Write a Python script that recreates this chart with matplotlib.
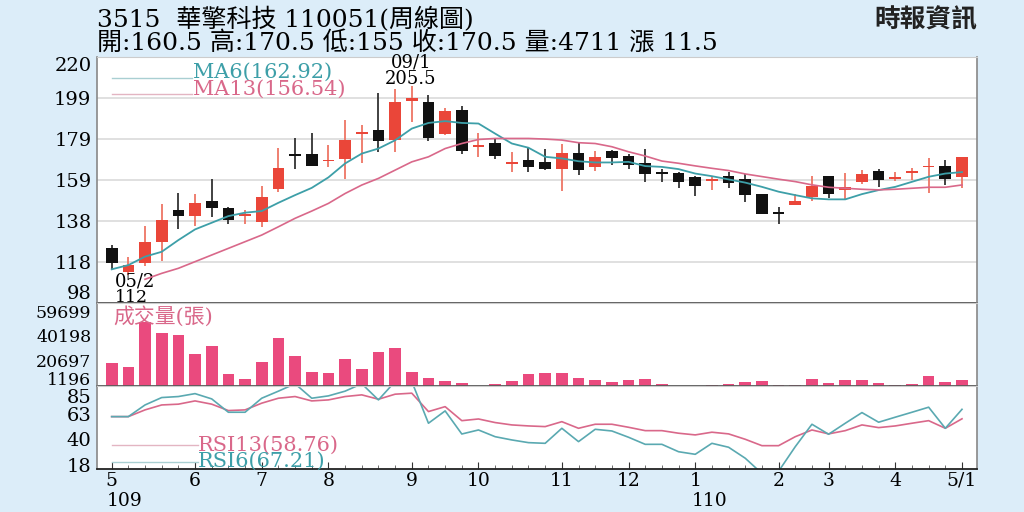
import numpy as np
import matplotlib
matplotlib.use("Agg")
import matplotlib.pyplot as plt
from matplotlib.transforms import blended_transform_factory

plt.rcParams['font.family'] = ['DejaVu Serif', 'Noto Sans CJK TC']

# weekly candles, 109/05 .. 110/05
opens = [125.1, 113.5, 118.0, 128.4, 144.1, 141.3, 148.5, 145.2, 141.0, 138.3,
         154.3, 171.8, 171.8, 168.2, 169.2, 181.7, 183.7, 178.7, 198.1, 197.7,
         182.0, 193.9, 175.4, 177.4, 166.7, 168.8, 168.0, 164.7, 172.6, 165.5,
         173.5, 171.0, 167.2, 163.1, 162.6, 160.6, 158.4, 160.9, 159.4, 152.0,
         142.6, 146.5, 150.7, 160.9, 154.0, 157.8, 163.4, 159.4, 162.6, 165.2,
         166.0, 160.5]
highs = [126.7, 121.0, 136.3, 146.9, 152.7, 152.3, 159.4, 145.7, 144.1, 156.0,
         174.9, 179.6, 182.5, 176.6, 189.0, 186.5, 201.9, 204.3, 205.5, 201.0,
         194.9, 195.7, 182.5, 179.1, 173.0, 174.9, 174.6, 177.1, 177.4, 173.5,
         174.1, 172.1, 174.3, 164.7, 163.0, 160.9, 160.6, 163.0, 162.2, 152.0,
         145.4, 152.0, 160.9, 160.9, 162.7, 163.9, 164.4, 163.1, 165.0, 169.7,
         168.8, 170.5]
lows = [114.4, 112.0, 116.5, 118.8, 134.7, 136.3, 140.8, 137.1, 137.1, 135.8,
        153.1, 164.7, 165.9, 165.2, 159.3, 167.5, 173.0, 173.0, 187.8, 178.3,
        181.5, 171.8, 170.5, 169.3, 163.1, 163.1, 163.9, 153.6, 161.4, 163.5,
        166.4, 164.7, 158.1, 158.1, 154.8, 151.0, 154.0, 154.8, 148.2, 142.1,
        137.1, 146.5, 148.7, 149.9, 149.0, 157.0, 155.6, 158.6, 158.9, 152.6,
        156.5, 155.0]
closes = [117.7, 116.8, 128.4, 139.1, 141.3, 147.4, 144.9, 139.4, 141.4, 150.7,
          165.0, 170.8, 165.9, 168.8, 178.7, 182.5, 178.2, 197.7, 199.7, 179.9,
          193.1, 173.3, 176.6, 170.8, 168.0, 165.5, 164.7, 172.6, 163.9, 170.5,
          170.0, 166.4, 161.9, 161.9, 158.1, 156.1, 159.3, 157.3, 151.5, 142.1,
          142.2, 148.5, 156.1, 152.0, 155.6, 161.9, 158.9, 160.6, 163.4, 166.0,
          159.3, 170.5]

ma6 = [114.7, 116.8, 121.0, 123.4, 129.2, 134.5, 137.8, 141.1, 142.8, 143.6,
       147.7, 151.5, 155.1, 160.3, 167.2, 172.1, 174.6, 178.7, 184.5, 187.3,
       188.2, 187.3, 187.0, 182.0, 177.1, 175.0, 170.5, 169.7, 168.3, 167.7,
       167.7, 168.0, 165.9, 165.5, 164.4, 162.2, 160.9, 159.3, 157.7, 155.6,
       153.2, 151.5, 149.9, 149.4, 149.4, 152.0, 154.0, 155.6, 158.1, 160.6,
       162.2, 162.92]
ma13 = [np.nan, np.nan, 109.75, 112.7, 115.2, 118.5, 121.8, 125.1, 128.4, 131.7,
        135.8, 140.0, 143.6, 147.4, 152.3, 156.5, 159.8, 163.9, 168.0, 170.5,
        174.6, 177.1, 179.1, 179.6, 179.6, 179.6, 179.3, 178.8, 177.5, 177.1,
        175.5, 173.0, 170.9, 168.4, 167.3, 166.0, 164.8, 163.7, 162.0, 160.7,
        159.4, 158.2, 156.6, 155.4, 154.9, 154.4, 154.1, 154.4, 154.9, 155.4,
        155.4, 156.54]

volume = [18700, 15200, 51300, 42800, 41200, 26000, 32400, 9900, 5400, 19500,
          38400, 23800, 11200, 10200, 21400, 13900, 27000, 30800, 11200, 6700,
          3800, 2400, 300, 1400, 3800, 9400, 10200, 10200, 6700, 4600,
          3500, 5100, 5900, 1900, 400, 300, 1100, 1900, 3500, 4000,
          1100, 800, 5400, 2400, 4600, 5100, 2400, 1100, 1300, 7800,
          3200, 4711]

rsi13 = [60.7, 60.7, 66.7, 71.1, 71.8, 74.7, 71.8, 66.1, 66.7, 72.7,
         77.1, 78.6, 74.7, 75.6, 78.6, 80.1, 76.2, 80.7, 81.6, 65.2,
         69.6, 57.1, 58.6, 55.4, 53.3, 52.4, 51.8, 56.2, 50.3, 53.9,
         53.9, 51.2, 48.2, 48.2, 45.9, 44.4, 46.8, 45.3, 40.5, 34.8,
         34.8, 42.8, 48.8, 45.3, 48.2, 53.3, 50.9, 52.4, 54.8, 57.1,
         50.3, 58.76]
rsi6 = [60.7, 60.7, 71.1, 77.7, 78.6, 81.2, 76.5, 64.6, 64.6, 77.1,
        83.4, 90.0, 77.1, 79.2, 83.4, 90.0, 75.6, 92.0, 92.0, 54.8,
        65.8, 45.2, 48.8, 42.8, 39.9, 37.5, 36.9, 50.3, 38.4, 49.4,
        47.9, 42.3, 36.0, 36.0, 29.4, 27.1, 36.9, 33.4, 23.6, 10.0,
        12.0, 33.9, 53.9, 45.0, 54.8, 64.3, 55.7, 60.2, 64.6, 69.1,
        50.3, 67.21]

month_pos = [0, 5, 9, 13, 18, 22, 27, 31, 35, 40, 43, 47, 51]
month_labels = ['5', '6', '7', '8', '9', '10', '11', '12', '1', '2', '3', '4', '5/1']

price_ticks = [98, 118.33, 138.67, 159, 179.33, 199.67, 220]
price_labels = ['98', '118', '138', '159', '179', '199', '220']
vol_ticks = [1196, 20697, 40198, 59699]
rsi_ticks = [18, 40.33, 62.67, 85]
rsi_labels = ['18', '40', '63', '85']

RED = '#ea4639'
BLACK = '#111111'
TEAL = '#3d9fa8'
PINK = '#d9688a'
VOLC = '#ea4a7e'

o = np.array(opens); h = np.array(highs); l = np.array(lows); c = np.array(closes)
x = np.arange(len(c))
up = c >= o

fig = plt.figure(figsize=(10.24, 5.12), dpi=100, facecolor='#dcedf9')
L, W = 97/1024, 880/1024
ax1 = fig.add_axes([L, 1-303/512, W, 246/512])
ax2 = fig.add_axes([L, 1-386/512, W, 83/512], sharex=ax1)
ax3 = fig.add_axes([L, 1-469/512, W, 83/512], sharex=ax1)

# price panel
ax1.vlines(x[up], l[up], h[up], colors='#ee7565', lw=1.3, zorder=2)
ax1.vlines(x[~up], l[~up], h[~up], colors='#333333', lw=1.3, zorder=2)
body_bot = np.minimum(o, c)
body_h = np.maximum(np.abs(c - o), 0.9)
ax1.bar(x, body_h, bottom=body_bot, width=0.7,
        color=np.where(up, RED, BLACK), zorder=3)
ax1.plot(x, ma6, color=TEAL, lw=1.3, zorder=4)
ax1.plot(x, ma13, color=PINK, lw=1.2, zorder=4)
ax1.set_ylim(98, 220)
ax1.set_yticks(price_ticks, price_labels)
ax1.grid(axis='y', color='#dddddd', lw=1.3)
ax1.set_axisbelow(True)

ax1.plot([0.017, 0.108], [0.916, 0.916], transform=ax1.transAxes, color='#a9cfd2', lw=1)
ax1.plot([0.017, 0.108], [0.848, 0.848], transform=ax1.transAxes, color='#e3b5c2', lw=1)
ax1.text(0.109, 0.916, 'MA6(162.92)', transform=ax1.transAxes, color=TEAL,
         fontsize=15, va='baseline')
ax1.text(0.109, 0.848, 'MA13(156.54)', transform=ax1.transAxes, color=PINK,
         fontsize=15, va='baseline')
ax1.text(17.95, 217.3, '09/1', fontsize=13, ha='center', va='center', clip_on=False)
ax1.text(17.95, 209.3, '205.5', fontsize=13, ha='center', va='center')
ax1.text(1.4, 108.6, '05/2', fontsize=13, ha='center', va='center')
ax1.text(1.2, 100.8, '112', fontsize=12.5, ha='center', va='center', clip_on=False, zorder=6)

# volume panel
ax2.bar(x, volume, width=0.7, color=VOLC)
ax2.set_ylim(0, 66500)
ax2.set_yticks(vol_ticks, [str(v) for v in vol_ticks])
ax2.text(0.018, 0.835, '成交量(張)', transform=ax2.transAxes, color=PINK,
         fontsize=15, va='center')

# RSI panel
ax3.plot(x, rsi13, color=PINK, lw=1.2)
ax3.plot(x, rsi6, color='#5aa9b1', lw=1.2)
ax3.set_ylim(14, 88)
ax3.set_yticks(rsi_ticks, rsi_labels)
ax3.plot([0.017, 0.115], [0.289, 0.289], transform=ax3.transAxes, color='#e3b5c2', lw=1)
ax3.plot([0.017, 0.115], [0.088, 0.088], transform=ax3.transAxes, color='#a9cfd2', lw=1)
ax3.text(0.115, 0.289, 'RSI13(58.76)', transform=ax3.transAxes, color=PINK,
         fontsize=15, va='center')
ax3.text(0.115, 0.088, 'RSI6(67.21)', transform=ax3.transAxes, color=TEAL,
         fontsize=15, va='center')

ax1.set_xlim(-0.88, 51.9)
ax3.set_xticks(month_pos, month_labels)
ax3.set_xticks(x, minor=True)
ax3.tick_params(axis='x', which='major', direction='in', length=5, labelsize=13.5,
                pad=2, color='#333333')
ax3.tick_params(axis='x', which='minor', direction='in', length=3, color='#555555')
for ax in (ax1, ax2):
    ax.tick_params(axis='x', which='both', bottom=False, labelbottom=False)

for ax in (ax1, ax2, ax3):
    ax.set_facecolor('white')
    ax.tick_params(axis='y', length=0, labelsize=14, pad=4)
    for s in ('left', 'right'):
        ax.spines[s].set_color('#888888')
        ax.spines[s].set_linewidth(1.2)
    ax.spines['top'].set_color('#cccccc')
    ax.spines['bottom'].set_color('#555555')
    ax.spines['bottom'].set_linewidth(1.3)
ax3.spines['bottom'].set_color('#222222')
ax2.tick_params(axis='y', labelsize=12.5)

tl = ax1.get_yticklabels()
tl[0].set_va('bottom'); tl[-1].set_va('top')
ax2.get_yticklabels()[0].set_va('baseline')
ax3.get_yticklabels()[-1].set_va('top')

trans = blended_transform_factory(ax3.transData, fig.transFigure)
fig.text(-0.3, 1-501/512, '109', transform=trans, fontsize=13.5, va='center', ha='left')
fig.text(34.8, 1-501/512, '110', transform=trans, fontsize=13.5, va='center', ha='left')

fig.text(97/1024, 1-20/512, '3515  華擎科技 110051(周線圖)', fontsize=18, va='center')
fig.text(97/1024, 1-43/512, '開:160.5 高:170.5 低:155 收:170.5 量:4711 漲 11.5',
         fontsize=18, va='center')
fig.text(977/1024, 1-20/512, '時報資訊', fontsize=18.5, va='center', ha='right',
         family='Noto Sans CJK TC', fontweight='bold', color='#222222')

fig.savefig('out.png', dpi=100, facecolor=fig.get_facecolor())
